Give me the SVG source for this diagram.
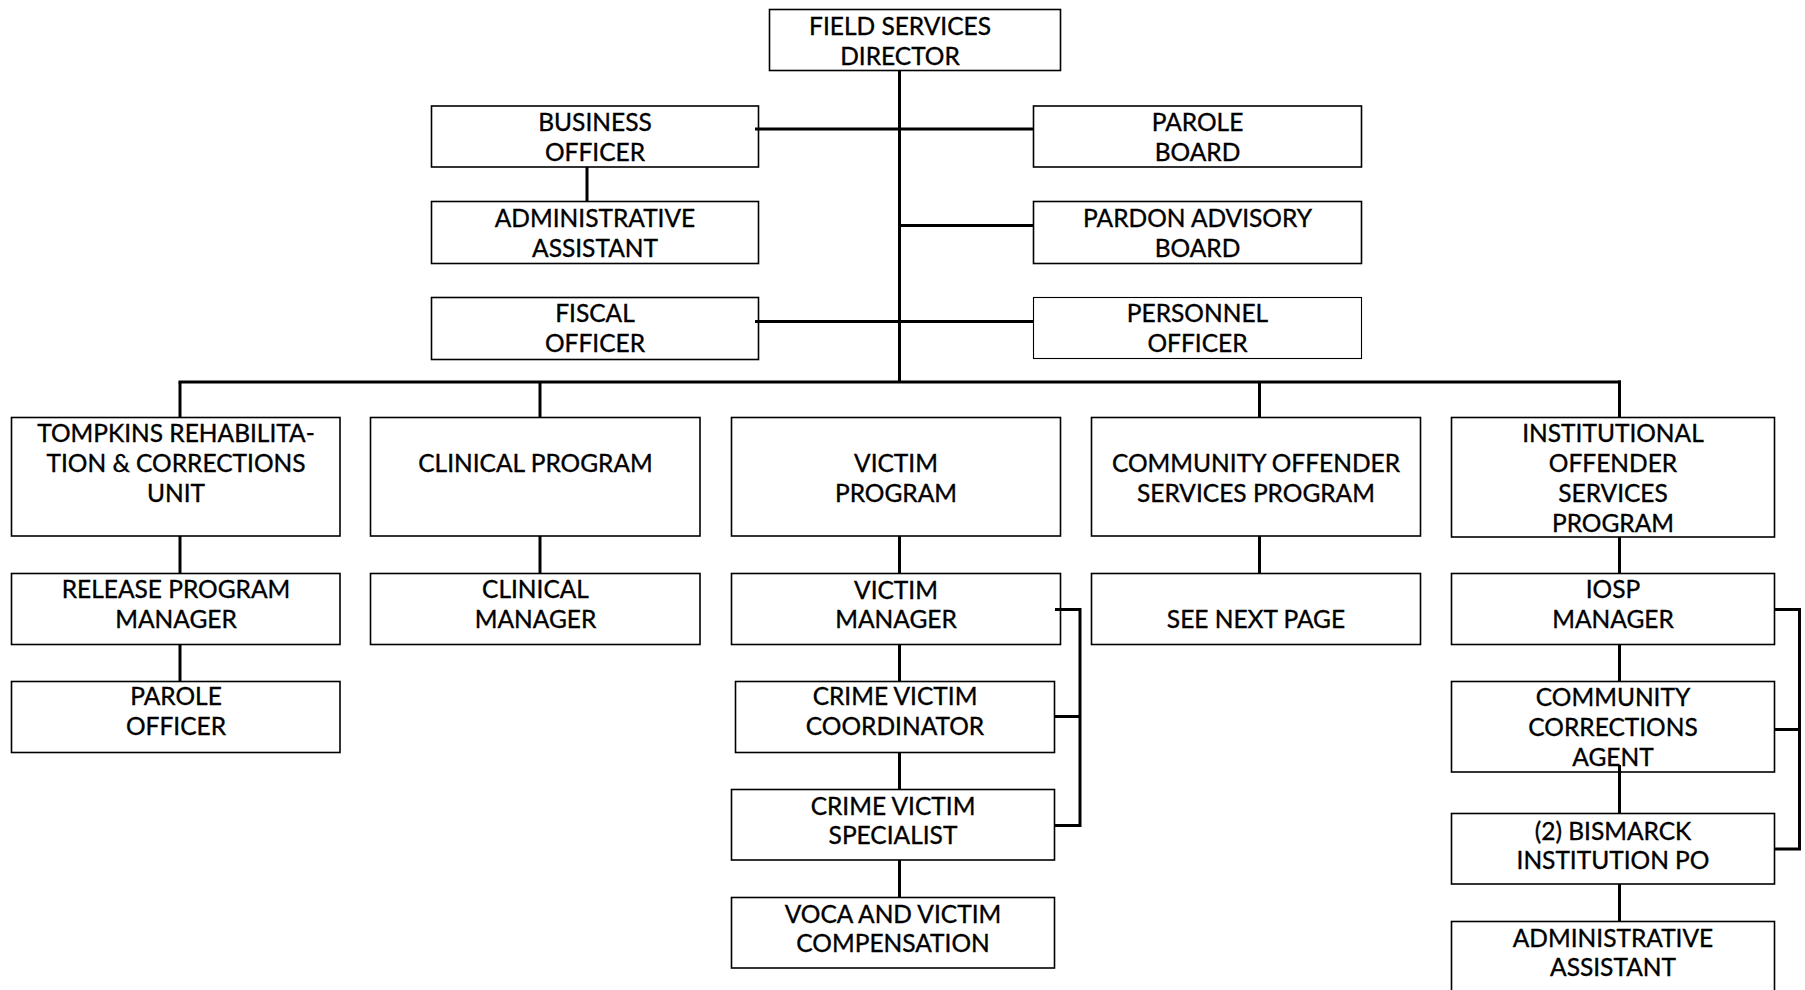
<svg xmlns="http://www.w3.org/2000/svg" width="1805" height="990" viewBox="0 0 1805 990">
  <style>
    .box { fill: #ffffff; stroke: #000000; stroke-width: 1.6; }
    .thin { stroke-width: 1.1; }
    .lbl { font-family: Lato, "Liberation Sans", Arial, sans-serif; font-size: 24.5px; text-anchor: middle; fill: #000000; stroke: #000000; stroke-width: 0.35; }
    .conn { stroke: #000000; stroke-width: 3; fill: none; stroke-linecap: butt; }
  </style>
  <rect x="0" y="0" width="1805" height="990" fill="#ffffff"/>

  <!-- Executive level -->
  <g id="field-services-director">
    <rect class="box" x="769.5" y="9.5" width="291" height="61"/>
    <text class="lbl"><tspan x="900" y="35">FIELD SERVICES</tspan><tspan x="900" y="65">DIRECTOR</tspan></text>
  </g>

  <!-- Staff offices -->
  <g id="business-officer">
    <rect class="box" x="431.5" y="106" width="327" height="61"/>
    <text class="lbl"><tspan x="595" y="131">BUSINESS</tspan><tspan x="595" y="161">OFFICER</tspan></text>
  </g>
  <g id="administrative-assistant-office">
    <rect class="box" x="431.5" y="201.5" width="327" height="62"/>
    <text class="lbl"><tspan x="595" y="227">ADMINISTRATIVE</tspan><tspan x="595" y="257">ASSISTANT</tspan></text>
  </g>
  <g id="fiscal-officer">
    <rect class="box" x="431.5" y="297.5" width="327" height="62"/>
    <text class="lbl"><tspan x="595" y="322">FISCAL</tspan><tspan x="595" y="352">OFFICER</tspan></text>
  </g>
  <g id="parole-board">
    <rect class="box" x="1033.5" y="106" width="328" height="61"/>
    <text class="lbl"><tspan x="1197.5" y="131">PAROLE</tspan><tspan x="1197.5" y="161">BOARD</tspan></text>
  </g>
  <g id="pardon-advisory-board">
    <rect class="box" x="1033.5" y="201.5" width="328" height="62"/>
    <text class="lbl"><tspan x="1197.5" y="227">PARDON ADVISORY</tspan><tspan x="1197.5" y="257">BOARD</tspan></text>
  </g>
  <g id="personnel-officer">
    <rect class="box thin" x="1033.5" y="297.5" width="328" height="61"/>
    <text class="lbl"><tspan x="1197.5" y="322">PERSONNEL</tspan><tspan x="1197.5" y="352">OFFICER</tspan></text>
  </g>

  <!-- Program divisions -->
  <g id="tompkins-unit">
    <rect class="box" x="11.5" y="417.5" width="328.5" height="118.5"/>
    <text class="lbl"><tspan x="176" y="442">TOMPKINS REHABILITA-</tspan><tspan x="176" y="472">TION &amp; CORRECTIONS</tspan><tspan x="176" y="502">UNIT</tspan></text>
  </g>
  <g id="clinical-program">
    <rect class="box" x="370.5" y="417.5" width="329.5" height="118.5"/>
    <text class="lbl"><tspan x="535.5" y="472">CLINICAL PROGRAM</tspan></text>
  </g>
  <g id="victim-program">
    <rect class="box" x="731.5" y="417.5" width="329" height="118.5"/>
    <text class="lbl"><tspan x="896" y="472">VICTIM</tspan><tspan x="896" y="502">PROGRAM</tspan></text>
  </g>
  <g id="community-offender-services">
    <rect class="box" x="1091.5" y="417.5" width="329" height="118.5"/>
    <text class="lbl"><tspan x="1256" y="472">COMMUNITY OFFENDER</tspan><tspan x="1256" y="502">SERVICES PROGRAM</tspan></text>
  </g>
  <g id="institutional-offender-services">
    <rect class="box" x="1451.5" y="417.5" width="323" height="119.5"/>
    <text class="lbl"><tspan x="1613" y="442">INSTITUTIONAL</tspan><tspan x="1613" y="472">OFFENDER</tspan><tspan x="1613" y="502">SERVICES</tspan><tspan x="1613" y="532">PROGRAM</tspan></text>
  </g>

  <!-- Second level -->
  <g id="release-program-manager">
    <rect class="box" x="11.5" y="573.5" width="328.5" height="71"/>
    <text class="lbl"><tspan x="176" y="598">RELEASE PROGRAM</tspan><tspan x="176" y="628">MANAGER</tspan></text>
  </g>
  <g id="clinical-manager">
    <rect class="box" x="370.5" y="573.5" width="329.5" height="71"/>
    <text class="lbl"><tspan x="535.5" y="598">CLINICAL</tspan><tspan x="535.5" y="628">MANAGER</tspan></text>
  </g>
  <g id="victim-manager">
    <rect class="box" x="731.5" y="573.5" width="329" height="71"/>
    <text class="lbl"><tspan x="896" y="599">VICTIM</tspan><tspan x="896" y="628">MANAGER</tspan></text>
  </g>
  <g id="see-next-page">
    <rect class="box" x="1091.5" y="573.5" width="329" height="71"/>
    <text class="lbl"><tspan x="1256" y="628">SEE NEXT PAGE</tspan></text>
  </g>
  <g id="iosp-manager">
    <rect class="box" x="1451.5" y="573.5" width="323" height="71"/>
    <text class="lbl"><tspan x="1613" y="598">IOSP</tspan><tspan x="1613" y="628">MANAGER</tspan></text>
  </g>

  <!-- Third level and below -->
  <g id="parole-officer">
    <rect class="box" x="11.5" y="681.5" width="328.5" height="71"/>
    <text class="lbl"><tspan x="176" y="705">PAROLE</tspan><tspan x="176" y="735">OFFICER</tspan></text>
  </g>
  <g id="crime-victim-coordinator">
    <rect class="box" x="735.5" y="681.5" width="319" height="71"/>
    <text class="lbl"><tspan x="895" y="705">CRIME VICTIM</tspan><tspan x="895" y="735">COORDINATOR</tspan></text>
  </g>
  <g id="crime-victim-specialist">
    <rect class="box" x="731.5" y="789.5" width="323" height="70.5"/>
    <text class="lbl"><tspan x="893" y="815">CRIME VICTIM</tspan><tspan x="893" y="844">SPECIALIST</tspan></text>
  </g>
  <g id="voca-victim-compensation">
    <rect class="box" x="731.5" y="897.5" width="323" height="70.5"/>
    <text class="lbl"><tspan x="893" y="923">VOCA AND VICTIM</tspan><tspan x="893" y="952">COMPENSATION</tspan></text>
  </g>
  <g id="community-corrections-agent">
    <rect class="box" x="1451.5" y="681.5" width="323" height="90.5"/>
    <text class="lbl"><tspan x="1613" y="706">COMMUNITY</tspan><tspan x="1613" y="736">CORRECTIONS</tspan><tspan x="1613" y="766">AGENT</tspan></text>
  </g>
  <g id="bismarck-institution-po">
    <rect class="box" x="1451.5" y="813.5" width="323" height="70.5"/>
    <text class="lbl"><tspan x="1613" y="840">(2) BISMARCK</tspan><tspan x="1613" y="869">INSTITUTION PO</tspan></text>
  </g>
  <g id="iosp-administrative-assistant">
    <rect class="box" x="1451.5" y="921.5" width="323" height="80"/>
    <text class="lbl"><tspan x="1613" y="947">ADMINISTRATIVE</tspan><tspan x="1613" y="976">ASSISTANT</tspan></text>
  </g>

  <!-- Reporting lines -->
  <g id="connectors" class="conn">
    <!-- trunk from the director down to the program bus -->
    <line x1="899.5" y1="70" x2="899.5" y2="382"/>
    <line x1="755" y1="129" x2="1033" y2="129"/>
    <line x1="899.5" y1="225.5" x2="1033" y2="225.5"/>
    <line x1="755" y1="321.5" x2="1033" y2="321.5"/>
    <line x1="587" y1="167" x2="587" y2="201.5"/>
    <!-- program bus and drops -->
    <line x1="178.5" y1="382" x2="1621" y2="382"/>
    <line x1="180" y1="382" x2="180" y2="417.5"/>
    <line x1="540" y1="382" x2="540" y2="417.5"/>
    <line x1="1259.5" y1="382" x2="1259.5" y2="417.5"/>
    <line x1="1619.5" y1="380.5" x2="1619.5" y2="417.5"/>
    <!-- Tompkins column -->
    <line x1="180" y1="536" x2="180" y2="573.5"/>
    <line x1="180" y1="644.5" x2="180" y2="681.5"/>
    <!-- Clinical column -->
    <line x1="540" y1="536" x2="540" y2="573.5"/>
    <!-- Victim column -->
    <line x1="899.5" y1="536" x2="899.5" y2="573.5"/>
    <line x1="899.5" y1="644.5" x2="899.5" y2="681.5"/>
    <line x1="899.5" y1="752.5" x2="899.5" y2="789.5"/>
    <line x1="899.5" y1="860" x2="899.5" y2="897.5"/>
    <path d="M1055 609.5 H1080 V825.5 H1054.5 M1054.5 716.5 H1080"/>
    <!-- Community offender column -->
    <line x1="1259.5" y1="536" x2="1259.5" y2="573.5"/>
    <!-- Institutional column -->
    <line x1="1619.5" y1="537" x2="1619.5" y2="573.5"/>
    <line x1="1619.5" y1="644.5" x2="1619.5" y2="681.5"/>
    <line x1="1619.5" y1="765" x2="1619.5" y2="813.5"/>
    <line x1="1619.5" y1="884" x2="1619.5" y2="921.5"/>
    <path d="M1774.5 609.5 H1799.5 V849 H1774.5 M1774.5 729.5 H1799.5"/>
  </g>
</svg>
